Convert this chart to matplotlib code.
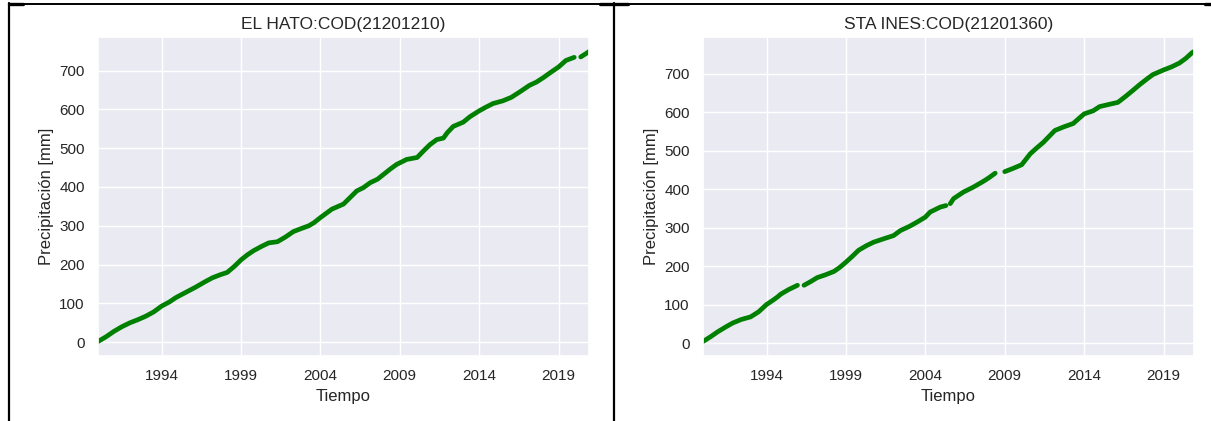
import numpy as np
import matplotlib.pyplot as plt
import seaborn as sns
from matplotlib.lines import Line2D

sns.set_theme(style="darkgrid")
plt.rcParams['font.family'] = ['Liberation Sans', 'DejaVu Sans']

# EL HATO (21201210): time in decimal years, cumulative precipitation [mm]
hato_t = [1990.0, 1990.5, 1991.0, 1991.5, 1992.0, 1992.5, 1993.0, 1993.5, 1994.0, 1994.5,
          1994.9, 1995.5, 1996.15, 1996.7, 1997.2, 1997.7, 1998.14, 1998.6, 1999.0, 1999.4,
          1999.8, 2000.3, 2000.75, 2001.3, 2001.8, 2002.3, 2002.8, 2003.27, 2003.6, 2004.0,
          2004.73, 2005.46, 2006.3, 2006.7, 2007.14, 2007.6, 2007.97, 2008.4, 2008.8, 2009.44,
          2010.1, 2010.5, 2010.9, 2011.33, 2011.75, 2012.0, 2012.37, 2013.0, 2013.42, 2014.0,
          2014.4, 2014.88, 2015.5, 2016.03, 2016.6, 2017.18, 2017.6, 2018.02, 2018.5, 2019.0,
          2019.47, 2019.99, 2020.1, 2020.4, 2020.82, 2020.92]
hato_v = [2, 14, 28, 40, 50, 58, 67, 78, 93, 104,
          115, 128, 142, 155, 166, 174, 180, 196, 212, 225,
          236, 247, 256, 259, 271, 285, 293, 300, 308, 321,
          343, 356, 390, 398, 411, 420, 432, 446, 458, 471,
          476, 493, 509, 522, 526, 540, 556, 567, 581, 596,
          605, 615, 622, 631, 646, 662, 670, 681, 695, 709,
          726, 734, np.nan, 735, 746, 749]

# STA INES (21201360)
ines_t = [1990.0, 1990.5, 1990.92, 1991.4, 1991.87, 1992.4, 1993.0, 1993.5, 1994.0, 1994.4,
          1994.7, 1994.9, 1995.4, 1995.95, 1996.1, 1996.36, 1996.8, 1997.2, 1997.7, 1998.25,
          1998.6, 1999.0, 1999.4, 1999.8, 2000.3, 2000.75, 2001.4, 2002.0, 2002.43, 2003.0,
          2003.48, 2004.0, 2004.3, 2004.94, 2005.3, 2005.42, 2005.57, 2005.78, 2006.4, 2007.03,
          2007.66, 2008.0, 2008.4, 2008.7, 2009.0, 2009.5, 2010.07, 2010.6, 2011.0, 2011.43,
          2012.16, 2012.7, 2013.31, 2014.0, 2014.57, 2014.98, 2015.5, 2016.13, 2016.66, 2017.1,
          2017.5, 2018.0, 2018.33, 2019.0, 2019.5, 2020.0, 2020.4, 2020.8, 2020.92]
ines_v = [5, 18, 30, 42, 53, 62, 69, 82, 101, 112,
          121, 128, 140, 151, np.nan, 151, 161, 171, 178, 187,
          197, 211, 226, 242, 254, 263, 272, 280, 293, 304,
          315, 328, 341, 354, 358, np.nan, 363, 376, 393, 406,
          421, 430, 442, np.nan, 446, 454, 464, 492, 507, 522,
          553, 562, 571, 596, 604, 615, 620, 626, 643, 658,
          672, 688, 698, 710, 718, 728, 740, 755, 758]

panels = [
    ("EL HATO:COD(21201210)", hato_t, hato_v),
    ("STA INES:COD(21201360)", ines_t, ines_v),
]

fig = plt.figure(figsize=(12.11, 4.21), dpi=100)
lefts = [98 / 1211, 703 / 1211]

for left, (title, t, v) in zip(lefts, panels):
    ax = fig.add_axes([left, 65 / 421, 491 / 1211, 319 / 421])
    ax.plot(t, v, color='green', lw=3.4, solid_capstyle='round')
    ax.set_xlim(1990.0, 2020.92)
    ax.set_xticks([1994, 1999, 2004, 2009, 2014, 2019])
    ax.set_xticklabels(['1994', '1999', '2004', '2009', '2014', '2019'])
    ax.set_yticks([0, 100, 200, 300, 400, 500, 600, 700])
    ax.set_title(title, fontsize=12.5)
    ax.set_xlabel("Tiempo")
    ax.set_ylabel("Precipitación [mm]")

# document table borders around the figures
def hline(x0, x1, y, lw=1.4):
    fig.add_artist(Line2D([x0 / 1211, x1 / 1211], [1 - y / 421, 1 - y / 421],
                          color='black', lw=lw))

def vline(x, y0, y1, lw=1.6):
    fig.add_artist(Line2D([x / 1211, x / 1211], [1 - y0 / 421, 1 - y1 / 421],
                          color='black', lw=lw))

hline(9, 1211, 4)
hline(9, 23, 4, lw=2.4)
hline(600, 628, 4, lw=2.4)
hline(1205, 1211, 4, lw=2.4)
vline(9, 3, 421)
vline(614, 3, 421)

fig.savefig("out.png", dpi=100)
